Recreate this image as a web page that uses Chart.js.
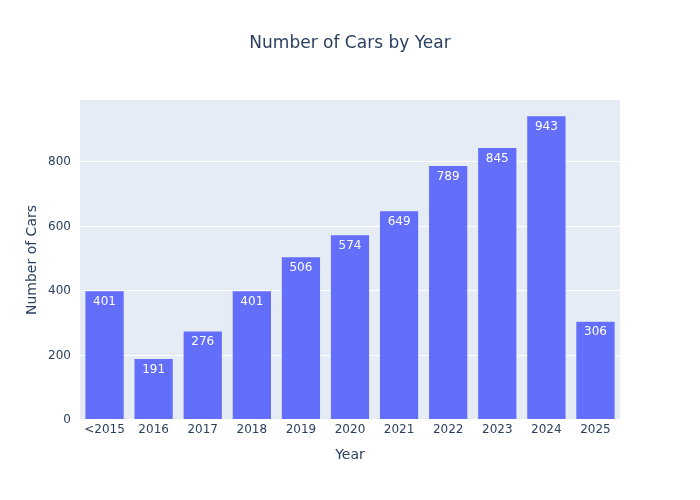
<!DOCTYPE html>
<html>
<head>
<meta charset="utf-8">
<script src="https://cdn.jsdelivr.net/npm/chart.js@4"></script>
<style>
  html, body { margin: 0; padding: 0; background: #fff; }
  #wrap { width: 700px; height: 500px; }
</style>
</head>
<body>
<div id="wrap"><canvas id="carsChart" width="700" height="500"></canvas></div>
<script>
// Data
const years = ['<2015', '2016', '2017', '2018', '2019', '2020', '2021', '2022', '2023', '2024', '2025'];
const carCounts = [401, 191, 276, 401, 506, 574, 649, 789, 845, 943, 306];
const yTicks = [0, 200, 400, 600, 800];
const chartTitle = 'Number of Cars by Year';

const textColor = '#2a3f5f';
const fontFamily = "'DejaVu Sans', verdana, arial, sans-serif";

// Value labels drawn inside the top of each bar
const barLabels = {
  id: 'barLabels',
  afterDatasetsDraw(chart) {
    const ctx = chart.ctx;
    const meta = chart.getDatasetMeta(0);
    ctx.save();
    ctx.fillStyle = '#ffffff';
    ctx.font = '12px ' + fontFamily;
    ctx.textAlign = 'center';
    ctx.textBaseline = 'middle';
    meta.data.forEach((bar, i) => {
      ctx.fillText(String(carCounts[i]), bar.x, bar.y + 11);
    });
    ctx.restore();
  }
};

// Plot background plus the title centred on the whole canvas
const plotBg = {
  id: 'plotBg',
  beforeDraw(chart) {
    const a = chart.chartArea;
    const c = chart.ctx;
    c.save();
    c.fillStyle = '#e5ecf6';
    c.fillRect(a.left, a.top, a.right - a.left, a.bottom - a.top);
    c.fillStyle = textColor;
    c.font = '17px ' + fontFamily;
    c.textAlign = 'center';
    c.textBaseline = 'middle';
    c.fillText(chartTitle, chart.width / 2, 44);
    c.restore();
  }
};

const ctx = document.getElementById('carsChart').getContext('2d');
const carsChart = new Chart(ctx, {
  type: 'bar',
  data: {
    labels: years,
    datasets: [{
      data: carCounts,
      backgroundColor: '#636efa',
      borderColor: '#e5ecf6',
      borderWidth: 0.5,
      categoryPercentage: 1,
      barPercentage: 0.8
    }]
  },
  options: {
    responsive: false,
    animation: false,
    layout: { padding: { left: 0, right: 80, top: 100, bottom: 0 } },
    plugins: {
      legend: { display: false },
      tooltip: { enabled: false },
      title: { display: false }
    },
    scales: {
      x: {
        grid: { display: false, drawTicks: false },
        border: { display: false },
        ticks: {
          color: textColor,
          font: { size: 12, family: fontFamily },
          padding: 3,
          maxRotation: 0,
          autoSkip: false
        },
        title: {
          display: true,
          text: 'Year',
          color: textColor,
          font: { size: 14, family: fontFamily },
          padding: { top: 0, bottom: 36 }
        },
        afterFit(scale) { scale.height = 80; }
      },
      y: {
        min: 0,
        max: 992,
        afterBuildTicks(scale) {
          scale.ticks = yTicks.map(v => ({ value: v }));
        },
        grid: {
          color: '#ffffff',
          lineWidth: (c) => (c.tick && c.tick.value === 0 ? 2 : 1),
          drawTicks: false
        },
        border: { display: false },
        ticks: {
          color: textColor,
          font: { size: 12, family: fontFamily },
          padding: 9
        },
        title: {
          display: true,
          text: 'Number of Cars',
          color: textColor,
          font: { size: 14, family: fontFamily },
          padding: { top: 24, bottom: 0 }
        },
        afterFit(scale) { scale.width = 80; }
      }
    }
  },
  plugins: [barLabels, plotBg]
});
</script>
</body>
</html>
